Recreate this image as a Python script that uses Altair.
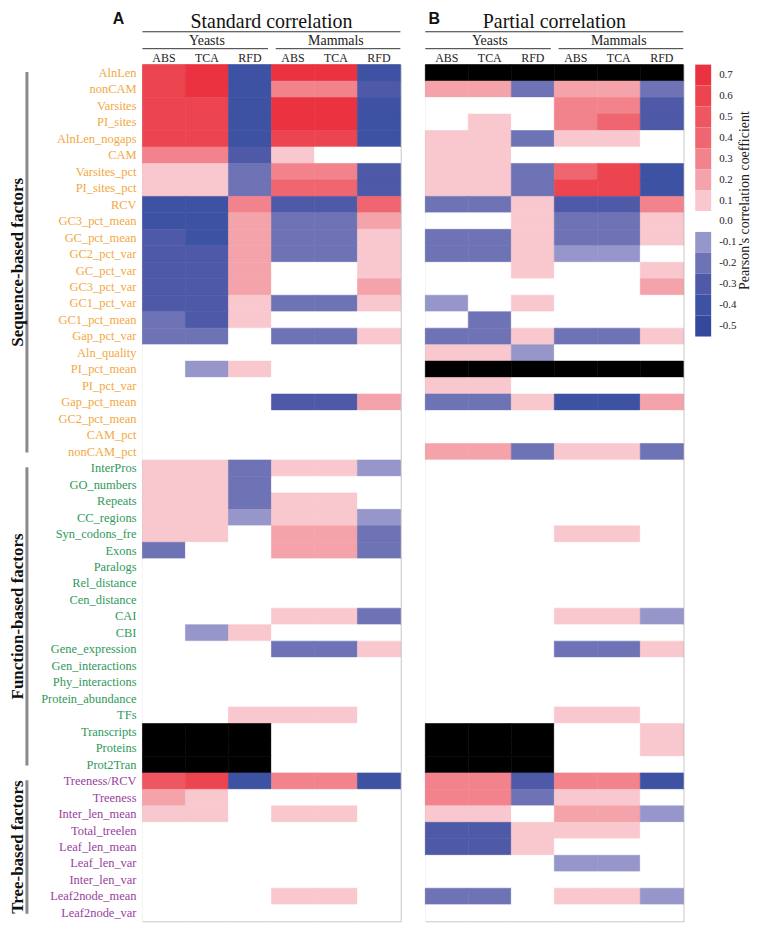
import altair as alt
import pandas as pd

# ---------------- data ----------------
seq_factors = ["AlnLen", "nonCAM", "Varsites", "PI_sites", "AlnLen_nogaps", "CAM",
               "Varsites_pct", "PI_sites_pct", "RCV", "GC3_pct_mean", "GC_pct_mean",
               "GC2_pct_var", "GC_pct_var", "GC3_pct_var", "GC1_pct_var", "GC1_pct_mean",
               "Gap_pct_var", "Aln_quality", "PI_pct_mean", "PI_pct_var", "Gap_pct_mean",
               "GC2_pct_mean", "CAM_pct", "nonCAM_pct"]
func_factors = ["InterPros", "GO_numbers", "Repeats", "CC_regions", "Syn_codons_fre", "Exons",
                "Paralogs", "Rel_distance", "Cen_distance", "CAI", "CBI", "Gene_expression",
                "Gen_interactions", "Phy_interactions", "Protein_abundance", "TFs",
                "Transcripts", "Proteins", "Prot2Tran"]
tree_factors = ["Treeness/RCV", "Treeness", "Inter_len_mean", "Total_treelen", "Leaf_len_mean",
                "Leaf_len_var", "Inter_len_var", "Leaf2node_mean", "Leaf2node_var"]

group_names = ["Sequence-based factors", "Function-based factors", "Tree-based factors"]
group_colors = ["#F3A843", "#2F9A5A", "#9A3E9E"]

measures = ["ABS", "TCA", "RFD"]
species = ["Yeasts", "Mammals"]

NA = None
# columns: Yeasts ABS, TCA, RFD, Mammals ABS, TCA, RFD
standard_seq = [
    [0.6, 0.7, -0.4, 0.7, 0.7, -0.4],
    [0.6, 0.7, -0.4, 0.3, 0.3, -0.3],
    [0.6, 0.6, -0.4, 0.7, 0.7, -0.4],
    [0.6, 0.6, -0.4, 0.7, 0.7, -0.4],
    [0.6, 0.6, -0.4, 0.6, 0.6, -0.4],
    [0.3, 0.3, -0.3, 0.1, 0.0, 0.0],
    [0.1, 0.1, -0.2, 0.3, 0.3, -0.3],
    [0.1, 0.1, -0.2, 0.4, 0.4, -0.3],
    [-0.4, -0.4, 0.3, -0.3, -0.3, 0.4],
    [-0.4, -0.4, 0.2, -0.2, -0.2, 0.2],
    [-0.3, -0.4, 0.2, -0.2, -0.2, 0.1],
    [-0.3, -0.3, 0.2, -0.2, -0.2, 0.1],
    [-0.3, -0.3, 0.2, 0.0, 0.0, 0.1],
    [-0.3, -0.3, 0.2, 0.0, 0.0, 0.2],
    [-0.3, -0.3, 0.1, -0.2, -0.2, 0.1],
    [-0.2, -0.3, 0.1, 0.0, 0.0, 0.0],
    [-0.2, -0.2, 0.0, -0.2, -0.2, 0.1],
    [0.0, 0.0, 0.0, 0.0, 0.0, 0.0],
    [0.0, -0.1, 0.1, 0.0, 0.0, 0.0],
    [0.0, 0.0, 0.0, 0.0, 0.0, 0.0],
    [0.0, 0.0, 0.0, -0.3, -0.3, 0.2],
    [0.0, 0.0, 0.0, 0.0, 0.0, 0.0],
    [0.0, 0.0, 0.0, 0.0, 0.0, 0.0],
    [0.0, 0.0, 0.0, 0.0, 0.0, 0.0],
]
standard_func = [
    [0.1, 0.1, -0.2, 0.1, 0.1, -0.1],
    [0.1, 0.1, -0.2, 0.0, 0.0, 0.0],
    [0.1, 0.1, -0.2, 0.1, 0.1, 0.0],
    [0.1, 0.1, -0.1, 0.1, 0.1, -0.1],
    [0.1, 0.1, 0.0, 0.2, 0.2, -0.2],
    [-0.2, 0.0, 0.0, 0.2, 0.2, -0.2],
    [0.0, 0.0, 0.0, 0.0, 0.0, 0.0],
    [0.0, 0.0, 0.0, 0.0, 0.0, 0.0],
    [0.0, 0.0, 0.0, 0.0, 0.0, 0.0],
    [0.0, 0.0, 0.0, 0.1, 0.1, -0.2],
    [0.0, -0.1, 0.1, 0.0, 0.0, 0.0],
    [0.0, 0.0, 0.0, -0.2, -0.2, 0.1],
    [0.0, 0.0, 0.0, 0.0, 0.0, 0.0],
    [0.0, 0.0, 0.0, 0.0, 0.0, 0.0],
    [0.0, 0.0, 0.0, 0.0, 0.0, 0.0],
    [0.0, 0.0, 0.1, 0.1, 0.1, 0.0],
    [NA, NA, NA, 0.0, 0.0, 0.0],
    [NA, NA, NA, 0.0, 0.0, 0.0],
    [NA, NA, NA, 0.0, 0.0, 0.0],
]
standard_tree = [
    [0.5, 0.6, -0.4, 0.3, 0.3, -0.4],
    [0.2, 0.1, 0.0, 0.0, 0.0, 0.0],
    [0.1, 0.1, 0.0, 0.1, 0.1, 0.0],
    [0.0, 0.0, 0.0, 0.0, 0.0, 0.0],
    [0.0, 0.0, 0.0, 0.0, 0.0, 0.0],
    [0.0, 0.0, 0.0, 0.0, 0.0, 0.0],
    [0.0, 0.0, 0.0, 0.0, 0.0, 0.0],
    [0.0, 0.0, 0.0, 0.1, 0.1, 0.0],
    [0.0, 0.0, 0.0, 0.0, 0.0, 0.0],
]
partial_seq = [
    [NA, NA, NA, NA, NA, NA],
    [0.2, 0.2, -0.2, 0.2, 0.2, -0.2],
    [0.0, 0.0, 0.0, 0.3, 0.3, -0.3],
    [0.0, 0.1, 0.0, 0.3, 0.4, -0.3],
    [0.1, 0.1, -0.2, 0.1, 0.1, 0.0],
    [0.1, 0.1, 0.0, 0.0, 0.0, 0.0],
    [0.1, 0.1, -0.2, 0.4, 0.6, -0.4],
    [0.1, 0.1, -0.2, 0.6, 0.6, -0.4],
    [-0.2, -0.2, 0.1, -0.3, -0.3, 0.3],
    [0.0, 0.0, 0.1, -0.2, -0.2, 0.1],
    [-0.2, -0.2, 0.1, -0.2, -0.2, 0.1],
    [-0.2, -0.2, 0.1, -0.1, -0.1, 0.0],
    [0.0, 0.0, 0.1, 0.0, 0.0, 0.1],
    [0.0, 0.0, 0.0, 0.0, 0.0, 0.2],
    [-0.1, 0.0, 0.1, 0.0, 0.0, 0.0],
    [0.0, -0.2, 0.0, 0.0, 0.0, 0.0],
    [-0.2, -0.2, 0.1, -0.2, -0.2, 0.1],
    [0.1, 0.1, -0.1, 0.0, 0.0, 0.0],
    [NA, NA, NA, NA, NA, NA],
    [0.1, 0.1, 0.0, 0.0, 0.0, 0.0],
    [-0.2, -0.2, 0.1, -0.4, -0.4, 0.2],
    [0.0, 0.0, 0.0, 0.0, 0.0, 0.0],
    [0.0, 0.0, 0.0, 0.0, 0.0, 0.0],
    [0.2, 0.2, -0.2, 0.1, 0.1, -0.2],
]
partial_func = [
    [0.0, 0.0, 0.0, 0.0, 0.0, 0.0],
    [0.0, 0.0, 0.0, 0.0, 0.0, 0.0],
    [0.0, 0.0, 0.0, 0.0, 0.0, 0.0],
    [0.0, 0.0, 0.0, 0.0, 0.0, 0.0],
    [0.0, 0.0, 0.0, 0.1, 0.1, 0.0],
    [0.0, 0.0, 0.0, 0.0, 0.0, 0.0],
    [0.0, 0.0, 0.0, 0.0, 0.0, 0.0],
    [0.0, 0.0, 0.0, 0.0, 0.0, 0.0],
    [0.0, 0.0, 0.0, 0.0, 0.0, 0.0],
    [0.0, 0.0, 0.0, 0.1, 0.1, -0.1],
    [0.0, 0.0, 0.0, 0.0, 0.0, 0.0],
    [0.0, 0.0, 0.0, -0.2, -0.2, 0.1],
    [0.0, 0.0, 0.0, 0.0, 0.0, 0.0],
    [0.0, 0.0, 0.0, 0.0, 0.0, 0.0],
    [0.0, 0.0, 0.0, 0.0, 0.0, 0.0],
    [0.0, 0.0, 0.0, 0.1, 0.1, 0.0],
    [NA, NA, NA, 0.0, 0.0, 0.1],
    [NA, NA, NA, 0.0, 0.0, 0.1],
    [NA, NA, NA, 0.0, 0.0, 0.0],
]
partial_tree = [
    [0.3, 0.3, -0.3, 0.3, 0.3, -0.4],
    [0.3, 0.3, -0.2, 0.1, 0.1, 0.0],
    [0.1, 0.1, 0.0, 0.2, 0.2, -0.1],
    [-0.3, -0.3, 0.1, 0.1, 0.1, 0.0],
    [-0.3, -0.3, 0.1, 0.0, 0.0, 0.0],
    [0.0, 0.0, 0.0, -0.1, -0.1, 0.0],
    [0.0, 0.0, 0.0, 0.0, 0.0, 0.0],
    [-0.2, -0.2, 0.0, 0.1, 0.1, -0.1],
    [0.0, 0.0, 0.0, 0.0, 0.0, 0.0],
]

bins = ["0.7", "0.6", "0.5", "0.4", "0.3", "0.2", "0.1", "0.0",
        "-0.1", "-0.2", "-0.3", "-0.4", "-0.5"]
bin_colors = ["#EB3240", "#EC4550", "#EE5761", "#EF6670", "#F2838C", "#F5A3AB", "#F8C8CE",
              "#FFFFFF", "#9796CA", "#6E73B5", "#4E5AA8", "#3D52A3", "#34499D"]
na_color = "#000000"

# ---------------- helpers ----------------
factors = seq_factors + func_factors + tree_factors
group_lists = [seq_factors, func_factors, tree_factors]
NROW = len(factors)
NCOL = len(measures) * len(species)
SERIF = "Times New Roman, Liberation Serif, DejaVu Serif, serif"
SANS = "Arial, Liberation Sans, sans-serif"

row_group = []
for g, lst in zip(group_names, group_lists):
    row_group += [g] * len(lst)


def lab(v):
    if v is None:
        return "NA"
    if abs(v) < 1e-9:
        return "0.0"
    return f"{v:.1f}"


def cells(values):
    recs = []
    for r, row in enumerate(values):
        for c, v in enumerate(row):
            recs.append({"r": r, "r2": r + 1, "c": c, "c2": c + 1, "lab": lab(v)})
    return pd.DataFrame(recs)


xs = alt.Scale(domain=[0, NCOL], nice=False, zero=False)
ys = alt.Scale(domain=[0, NROW], reverse=True, nice=False, zero=False)
cs = alt.Scale(domain=bins + ["NA"], range=bin_colors + [na_color])

PW = 259
PH = 860


def panel(values, letter, title, letter_x, with_labels, left_pad=0):
    df = cells(values)
    heat = alt.Chart(df).mark_rect(strokeWidth=0.6).encode(
        x=alt.X("c:Q", scale=xs, axis=None), x2="c2:Q",
        y=alt.Y("r:Q", scale=ys, axis=None), y2="r2:Q",
        fill=alt.Fill("lab:N", scale=cs, legend=None),
        stroke=alt.Stroke("lab:N", scale=cs, legend=None),
    )
    col_df = pd.DataFrame({"x": [i + 0.5 for i in range(NCOL)],
                           "t": measures * len(species)})
    col_txt = alt.Chart(col_df).mark_text(font=SERIF, fontSize=12, baseline="middle",
                                          color="#222").encode(
        x=alt.X("x:Q", scale=xs), y=alt.value(-6.5), text="t:N")
    sp_df = pd.DataFrame({"x": [1.5, 4.5], "t": species})
    sp_txt = alt.Chart(sp_df).mark_text(font=SERIF, fontSize=14, baseline="middle",
                                        color="#222").encode(
        x=alt.X("x:Q", scale=xs), y=alt.value(-24), text="t:N")
    sp_line_df = pd.DataFrame({"x": [0.0, 3.1], "x2": [2.92, 6.0]})
    sp_line = alt.Chart(sp_line_df).mark_rule(color="#333", strokeWidth=1).encode(
        x=alt.X("x:Q", scale=xs), x2="x2:Q", y=alt.value(-16))
    t_line_df = pd.DataFrame({"x": [0.0], "x2": [6.0]})
    t_line = alt.Chart(t_line_df).mark_rule(color="#333", strokeWidth=1).encode(
        x=alt.X("x:Q", scale=xs), x2="x2:Q", y=alt.value(-33))
    t_df = pd.DataFrame({"x": [3.0], "t": [title]})
    t_txt = alt.Chart(t_df).mark_text(font=SERIF, fontSize=20, baseline="middle",
                                      color="#111").encode(
        x=alt.X("x:Q", scale=xs), y=alt.value(-43), text="t:N")
    l_df = pd.DataFrame({"t": [letter]})
    l_txt = alt.Chart(l_df).mark_text(font=SANS, fontSize=16, fontWeight="bold",
                                      baseline="middle", color="#111").encode(
        x=alt.value(letter_x), y=alt.value(-46), text="t:N")
    layers = [heat, col_txt, sp_txt, sp_line, t_line, t_txt, l_txt]

    if left_pad:
        layers.append(alt.Chart(pd.DataFrame({"t": [0]})).mark_rule(opacity=0).encode(
            x=alt.value(-left_pad), x2=alt.value(0), y=alt.value(0)))

    if with_labels:
        lab_df = pd.DataFrame({"name": factors, "group": row_group,
                               "ym": [i + 0.5 for i in range(NROW)]})
        for g, colr in zip(group_names, group_colors):
            layers.append(
                alt.Chart(lab_df).transform_filter(alt.datum.group == g)
                .mark_text(font=SERIF, fontSize=12.5, align="right", baseline="middle",
                           color=colr)
                .encode(x=alt.value(-6), y=alt.Y("ym:Q", scale=ys), text="name:N"))
        starts, ends = [], []
        s = 0
        for lst in group_lists:
            starts.append(s)
            s += len(lst)
            ends.append(s)
        g_df = pd.DataFrame({"g": group_names,
                             "y1": [a + 0.45 for a in starts],
                             "y2": [b - 0.45 for b in ends],
                             "ym": [(a + b) / 2 for a, b in zip(starts, ends)]})
        layers.append(alt.Chart(g_df).mark_rule(color="#8a8a8a", strokeWidth=3).encode(
            x=alt.value(-116), y=alt.Y("y1:Q", scale=ys), y2="y2:Q"))
        layers.append(alt.Chart(g_df).mark_text(font=SERIF, fontSize=17, fontWeight="bold",
                                                angle=270, baseline="middle",
                                                color="#111").encode(
            x=alt.value(-125), y=alt.Y("ym:Q", scale=ys), text="g:N"))

    return alt.layer(*layers).properties(width=PW, height=PH)


panel_a = panel(standard_seq + standard_func + standard_tree, "A",
                "Standard correlation", -24, True)
panel_b = panel(partial_seq + partial_func + partial_tree, "B",
                "Partial correlation", 9, False, left_pad=12)

# ---------------- legend ----------------
leg_df = pd.DataFrame({"lab": bins})
ly = alt.Y("lab:O", sort=bins, axis=None, scale=alt.Scale(paddingInner=0, paddingOuter=0))
leg_rect = alt.Chart(leg_df).mark_rect().encode(
    x=alt.value(0), x2=alt.value(16), y=ly,
    fill=alt.Fill("lab:N", scale=alt.Scale(domain=bins, range=bin_colors), legend=None))
leg_txt = alt.Chart(leg_df).mark_text(font=SERIF, fontSize=11, align="left",
                                      baseline="middle", color="#222").encode(
    x=alt.value(24), y=ly, text="lab:N")
leg_title = alt.Chart(pd.DataFrame({"t": ["Pearson's correlation coefficient"]})).mark_text(
    font=SERIF, fontSize=14, angle=270, baseline="middle", color="#222").encode(
    x=alt.value(50), y=alt.value(136.5), text="t:N")
legend = alt.layer(leg_rect, leg_txt, leg_title).properties(
    width=16, height=273, view=alt.ViewBackground(stroke=None))

chart = alt.hconcat(panel_a, panel_b, legend, spacing=11).resolve_scale(
    x="independent", y="independent", fill="independent", stroke="independent"
).properties(
    padding={"left": 0, "top": 0, "right": 0, "bottom": 0}
).configure_view(stroke="#9a9a9a", strokeWidth=1)

chart.save("out.html", embed_options={"renderer": "svg", "actions": False})
